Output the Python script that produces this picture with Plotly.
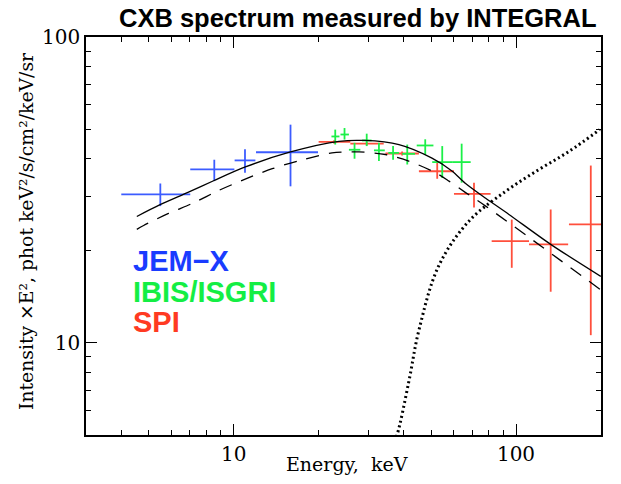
import plotly.graph_objects as go

# ---------------- data ----------------
# JEM-X
jemx_E = [5.5, 8.54, 10.97, 15.9]
jemx_Elo = [4.0, 7.02, 10.08, 12.0]
jemx_Ehi = [7.02, 10.06, 11.94, 19.9]
jemx_I = [30.6, 36.9, 39.5, 42.0]
jemx_Ilo = [28.0, 33.8, 36.0, 32.5]
jemx_Ihi = [33.2, 39.7, 43.0, 51.7]

# IBIS/ISGRI
isgri_E = [22.9, 24.7, 26.8, 29.6, 32.7, 36.7, 41.2, 47.7, 54.8, 64.2]
isgri_Elo = [22.2, 23.9, 25.6, 28.5, 31.4, 35.3, 39.5, 44.5, 50.5, 59.4]
isgri_Ehi = [23.7, 25.6, 28.1, 30.8, 34.3, 38.5, 43.9, 51.0, 59.4, 69.1]
isgri_I = [47.3, 48.0, 42.8, 45.9, 42.6, 41.8, 41.5, 44.2, 39.0, 39.0]
isgri_Ilo = [44.5, 46.2, 40.0, 44.0, 39.3, 39.7, 38.3, 41.2, 34.6, 33.4]
isgri_Ihi = [49.8, 50.4, 45.1, 48.3, 45.1, 44.0, 44.5, 46.3, 44.0, 44.8]

# SPI
spi_E = [22.7, 29.6, 39.5, 52.6, 71.0, 96.6, 132.7, 184.0]
spi_Elo = [20.0, 25.9, 34.5, 45.3, 60.3, 82.0, 111.2, 154.0]
spi_Ehi = [25.9, 34.0, 45.3, 60.3, 81.3, 111.2, 153.0, 230.0]
spi_I = [45.4, 44.8, 41.6, 36.4, 30.7, 21.5, 21.0, 24.4]
spi_Ilo = [44.8, 44.2, 41.0, 34.4, 27.7, 17.6, 14.7, 10.6]
spi_Ihi = [46.0, 45.4, 42.2, 38.8, 33.4, 25.3, 27.3, 38.0]

# model curves
solid_E = [4.54, 5.49, 6.92, 8.49, 11.0, 15.9, 23.6, 29.1, 38.5, 50.4, 59.3, 66.3, 78.1, 94.4, 132.7, 199.7]
solid_I = [25.9, 28.3, 31.1, 33.9, 37.6, 42.1, 45.6, 45.9, 44.5, 40.2, 36.5, 33.2, 29.7, 26.3, 21.0, 16.5]

dashed_E = [4.54, 4.80, 5.88, 7.21, 8.85, 11.15, 13.7, 17.2, 22.3, 27.8, 34.5, 41.7, 51.9, 57.9, 66.3, 78.1, 199.7]
dashed_I = [23.5, 24.2, 26.5, 28.7, 31.5, 34.5, 37.1, 39.5, 41.8, 42.1, 41.3, 39.3, 36.0, 33.8, 31.0, 28.0, 14.9]

dotted_E = [36.5, 37.9, 41.7, 45.3, 53.3, 68.1, 91.9, 120.7, 154.2, 198.0]
dotted_I = [4.6, 5.0, 7.45, 11.0, 17.9, 25.0, 31.3, 36.9, 42.3, 49.8]

x_major = [10, 100]
x_minor = [4, 5, 6, 7, 8, 9, 20, 30, 40, 50, 60, 70, 80, 90, 200]
y_major = [10, 100]
y_minor = [6, 7, 8, 9, 20, 30, 40, 50, 60, 70, 80, 90]

BLUE = "#3c5cff"
GREEN = "#1cf048"
RED = "#ff4f3c"


def minus(v, lo):
    return [a - b for a, b in zip(v, lo)]


def plus(v, hi):
    return [b - a for a, b in zip(v, hi)]


fig = go.Figure()

for E, Elo, Ehi, I, Ilo, Ihi, col in [
    (jemx_E, jemx_Elo, jemx_Ehi, jemx_I, jemx_Ilo, jemx_Ihi, BLUE),
    (spi_E, spi_Elo, spi_Ehi, spi_I, spi_Ilo, spi_Ihi, RED),
    (isgri_E, isgri_Elo, isgri_Ehi, isgri_I, isgri_Ilo, isgri_Ihi, GREEN),
]:
    fig.add_trace(go.Scatter(
        x=E, y=I, mode="markers",
        marker=dict(size=1, color=col, opacity=0),
        error_x=dict(type="data", symmetric=False, array=plus(E, Ehi),
                     arrayminus=minus(E, Elo), color=col, thickness=1.8, width=0),
        error_y=dict(type="data", symmetric=False, array=plus(I, Ihi),
                     arrayminus=minus(I, Ilo), color=col, thickness=1.8, width=0),
        showlegend=False, hoverinfo="skip",
    ))

fig.add_trace(go.Scatter(x=solid_E, y=solid_I, mode="lines",
                         line=dict(color="black", width=1.3, shape="spline", smoothing=0.8),
                         showlegend=False))
fig.add_trace(go.Scatter(x=dashed_E, y=dashed_I, mode="lines",
                         line=dict(color="black", width=1.3, shape="spline", smoothing=0.8,
                                   dash="13px,10px"),
                         showlegend=False))
fig.add_trace(go.Scatter(x=dotted_E, y=dotted_I, mode="lines",
                         line=dict(color="black", width=3, shape="spline", dash="2px,3px"),
                         showlegend=False))

axis_common = dict(
    type="log", showline=True, linecolor="black", linewidth=1.5, mirror="allticks",
    ticks="inside", ticklen=11, tickwidth=1, tickcolor="black",
    showgrid=False, zeroline=False,
    tickfont=dict(family="DejaVu Serif", size=20, color="black"),
    minor=dict(ticks="inside", ticklen=5, tickwidth=1, tickcolor="black", showgrid=False),
)

fig.update_layout(
    width=621, height=484,
    margin=dict(l=86, r=20, t=37, b=49),
    paper_bgcolor="white", plot_bgcolor="white",
    xaxis=dict(axis_common, range=[0.47712, 2.30103], tickmode="array",
               tickvals=x_major, ticktext=[str(v) for v in x_major]),
    yaxis=dict(axis_common, range=[0.69897, 2.0], tickmode="array",
               tickvals=y_major, ticktext=[str(v) for v in y_major]),
)
fig.update_xaxes(minor=dict(tickmode="array", tickvals=x_minor))
fig.update_yaxes(minor=dict(tickmode="array", tickvals=y_minor))

annots = [
    dict(text="<b>CXB spectrum measured by INTEGRAL</b>", x=0.528, y=1.048,
         font=dict(family="Liberation Sans", size=25.5, color="black")),
    dict(text="Energy,  keV", x=0.507, y=-0.072,
         font=dict(family="DejaVu Serif", size=19, color="black")),
    dict(text="Intensity ×E², phot keV²/s/cm²/keV/sr", x=-0.1146, y=0.5126, textangle=-90,
         font=dict(family="DejaVu Serif", size=18.8, color="black")),
    dict(text="<b>JEM−X</b>", x=0.0868, y=0.436, xanchor="left",
         font=dict(family="Liberation Sans", size=29, color="#1a3cff")),
    dict(text="<b>IBIS/ISGRI</b>", x=0.0868, y=0.359, xanchor="left",
         font=dict(family="Liberation Sans", size=29, color="#14ee44")),
    dict(text="<b>SPI</b>", x=0.0868, y=0.284, xanchor="left",
         font=dict(family="Liberation Sans", size=29, color="#ff3a22")),
]
for a in annots:
    a.setdefault("xanchor", "center")
    fig.add_annotation(xref="paper", yref="paper", showarrow=False, yanchor="middle", **a)

fig.write_html("out.html", config={"displayModeBar": False},
               post_script="document.body.style.margin='0';")
